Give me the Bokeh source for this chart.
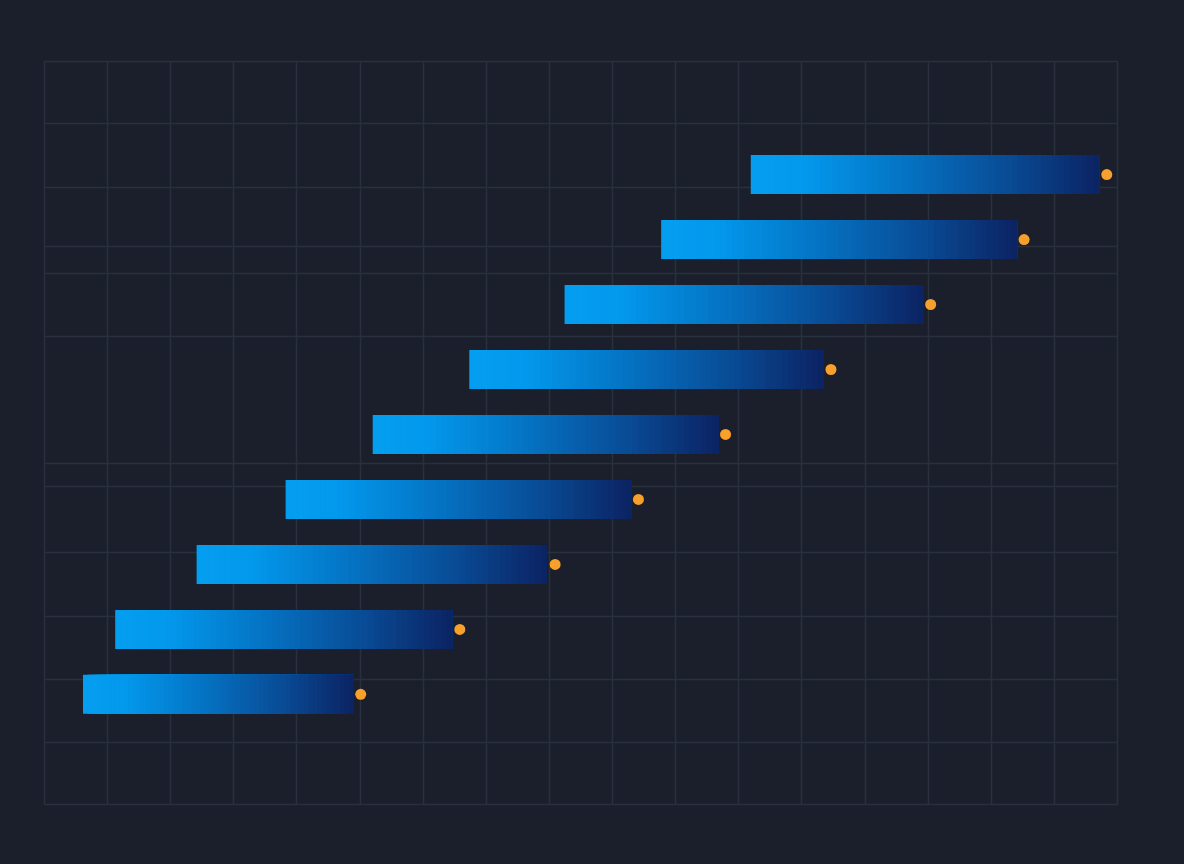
from bokeh.plotting import figure
from bokeh.models import Range1d, FixedTicker
from bokeh.embed import file_html
from bokeh.resources import INLINE

# ---- data ----
rows = [0, 1, 2, 3, 4, 5, 6, 7, 8]
starts = [6.1, 11.2, 24.1, 38.2, 52.0, 67.3, 82.4, 97.7, 111.9]
ends = [49.0, 64.6, 79.6, 93.0, 106.8, 123.5, 139.3, 154.1, 167.1]
markers = [50.1, 65.8, 80.9, 94.1, 107.9, 124.6, 140.4, 155.2, 168.3]

x_ticks = [10, 20, 30, 40, 50, 60, 70, 80, 90, 100, 110, 120, 130, 140, 150, 160]
y_ticks = [-0.74, 0.23, 1.20, 2.18, 3.20, 3.55, 5.50, 6.47, 6.90, 7.80, 8.78]

BG = "#1a1f2b"
GRID = "#29303d"
DOT = "#f7a02c"
STOPS = [(0.0, (4, 158, 240)), (0.15, (3, 152, 236)), (0.45, (5, 114, 194)),
         (0.75, (9, 74, 148)), (1.0, (11, 36, 100))]


def grad(t):
    for (t0, c0), (t1, c1) in zip(STOPS[:-1], STOPS[1:]):
        if t <= t1:
            f = (t - t0) / (t1 - t0) if t1 > t0 else 0
            return "#%02x%02x%02x" % tuple(int(round(a + (b - a) * f)) for a, b in zip(c0, c1))
    return "#%02x%02x%02x" % STOPS[-1][1]


p = figure(width=1176, height=856, output_backend="svg", toolbar_location=None,
           x_range=Range1d(0, 170), y_range=Range1d(-1.695, 9.74),
           x_axis_location=None, y_axis_location=None,
           min_border_left=44, min_border_right=59, min_border_top=61, min_border_bottom=52,
           background_fill_color=BG, border_fill_color=BG)
p.outline_line_color = GRID
p.outline_line_width = 1.5

p.xgrid.ticker = FixedTicker(ticks=x_ticks)
p.ygrid.ticker = FixedTicker(ticks=y_ticks)
for g in (p.xgrid, p.ygrid):
    g.grid_line_color = GRID
    g.grid_line_width = 1.5

# gradient bars: stacked slices, each running to the bar end
N = 60
L, R, B, T, C = [], [], [], [], []
for k in range(N):
    t = k / (N - 1)
    for r, s, e in zip(rows, starts, ends):
        L.append(s + (e - s) * k / N)
        R.append(e)
        B.append(r - 0.3)
        T.append(r + 0.3)
        C.append(grad(t))
p.quad(left=L, right=R, bottom=B, top=T, fill_color=C, line_color=None)

p.scatter(x=markers, y=rows, size=11, fill_color=DOT, line_color=None)

html = file_html(p, INLINE)
html = html.replace("<body>", '<body style="background:%s;">' % BG)
open("out.html", "w").write(html)
